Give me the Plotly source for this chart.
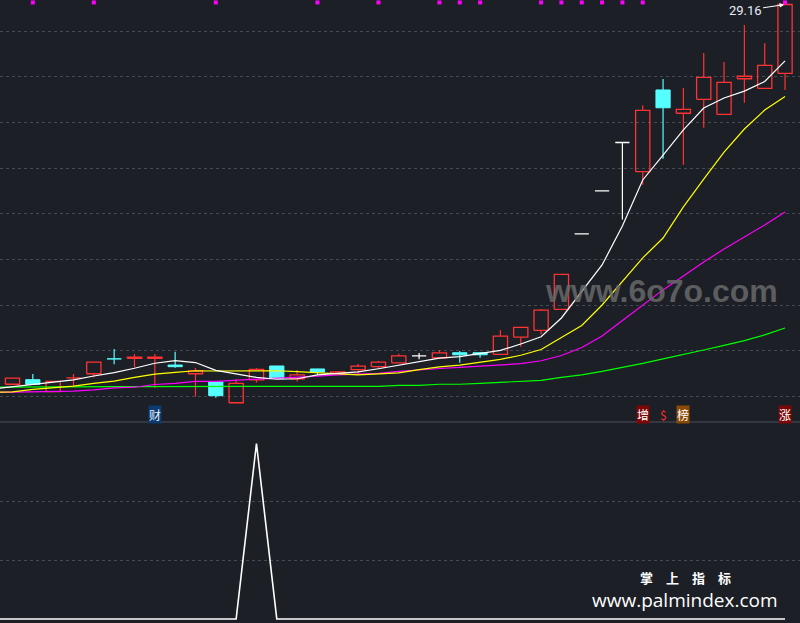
import plotly.graph_objects as go

# ---------------- data ----------------
idx = list(range(39))
opens  = [12.54,12.74,12.22,12.82,13.00,13.67,13.67,13.67,13.38,13.00,12.64,11.73,12.73,13.34,12.78,13.21,13.01,13.18,13.31,13.48,
          13.78,13.70,13.92,13.92,13.85,14.60,14.90,15.82,19.12,21.00,23.12,21.85,25.42,24.40,25.01,24.35,25.91,25.49,26.15]
highs  = [12.81,12.99,12.67,12.99,13.51,14.08,13.86,13.86,13.96,13.25,12.64,12.76,13.25,13.34,13.16,13.21,13.12,13.43,13.56,13.88,
          13.91,14.04,14.00,13.95,14.91,15.03,15.83,17.35,19.12,21.00,23.12,24.75,25.90,25.51,27.04,26.64,28.26,27.46,29.16]
lows   = [12.54,12.54,12.22,12.44,12.84,13.41,13.28,12.38,13.26,12.00,11.95,11.73,12.61,12.80,12.66,12.95,13.00,12.99,13.26,13.48,
          13.63,13.70,13.48,13.70,13.85,14.18,14.73,15.82,19.12,21.00,19.75,21.27,22.41,22.15,23.77,24.35,24.86,25.49,25.42]
closes = [12.81,12.54,12.67,12.84,13.51,13.65,13.73,13.73,13.31,13.12,12.04,12.58,13.19,12.80,12.95,13.08,13.08,13.33,13.51,13.78,
          13.78,13.91,13.83,13.83,14.65,15.03,15.78,17.35,19.12,21.00,23.12,24.53,24.64,24.57,25.97,25.75,26.02,26.50,29.16]

# moving-average lines, index -1 .. 38
ext_idx = list(range(-1, 39))
ma5  = [12.33,12.43,12.51,12.61,12.73,12.90,13.05,13.24,13.46,13.57,13.49,13.15,12.99,12.84,12.76,12.78,12.95,13.02,13.08,13.22,
        13.37,13.50,13.68,13.75,13.88,14.02,14.30,14.62,15.44,16.58,17.76,19.47,21.48,22.57,23.67,24.63,25.07,25.37,25.79,26.69]
ma10 = [12.18,12.21,12.32,12.38,12.46,12.58,12.68,12.84,12.98,13.06,13.13,13.12,13.12,13.14,13.13,13.09,13.05,12.98,12.95,12.99,
        13.04,13.18,13.30,13.38,13.49,13.63,13.81,14.06,14.59,15.11,16.01,17.02,18.07,18.94,20.30,21.52,22.70,23.71,24.54,25.13]
ma20 = [12.18,12.19,12.19,12.23,12.24,12.29,12.38,12.41,12.53,12.58,12.67,12.67,12.71,12.76,12.80,12.83,12.90,12.95,12.99,13.02,
        13.10,13.18,13.23,13.28,13.34,13.38,13.44,13.57,13.80,14.15,14.65,15.33,16.01,16.67,17.28,17.89,18.46,18.98,19.51,20.08]
ma60 = [12.41,12.42,12.42,12.43,12.43,12.44,12.44,12.44,12.44,12.45,12.45,12.45,12.45,12.45,12.45,12.45,12.45,12.45,12.45,12.45,
        12.49,12.49,12.54,12.54,12.58,12.63,12.67,12.71,12.84,12.95,13.10,13.27,13.45,13.65,13.83,14.04,14.24,14.45,14.70,15.00]

# lower indicator panel, index -1 .. 38
signal = [0,0,0,0,0,0,0,0,0,0,0,0,0,3,0,0,0,0,0,0,
          0,0,0,0,0,0,0,0,0,0,0,0,0,0,0,0,0,0,0,0]

# magenta dots along the top
dot_idx = [1,4,10,15,18,21,22,23,26,27,28,29,30,31,38]

# signal labels
label_text = ["财", "增", "$", "榜", "涨"]
label_idx  = [7, 31, 32, 33, 38]
label_bg   = ["#0c3a72", "#7a0808", "rgba(0,0,0,0)", "#8a4a06", "#7a0808"]
label_fg   = ["#e2f0ff", "#ffffff", "#ff2a2a", "#ffffff", "#ffffff"]

last_price_text = "29.16"

# ---------------- styling ----------------
BG = "#1c1f26"
RED = "#ff3333"
CYAN = "#55ffff"
WHITE = "#ffffff"
HALF = 0.35
TOP_DOT_Y = 29.25

fig = go.Figure()

groups = {"red": ([], [], [], []), "cyan": ([], [], [], []), "white": ([], [], [], [])}
for k, o, h, l, c in zip(idx, opens, highs, lows, closes):
    g = "red" if c > o else ("cyan" if c < o else "white")
    bx, by, wx, wy = groups[g]
    top, bot = max(o, c), min(o, c)
    bx += [k - HALF, k + HALF, k + HALF, k - HALF, k - HALF, None]
    by += [bot, bot, top, top, bot, None]
    if h > top:
        wx += [k, k, None]
        wy += [h, top, None]
    if l < bot:
        wx += [k, k, None]
        wy += [bot, l, None]

col = {"red": RED, "cyan": CYAN, "white": WHITE}
for g in ["red", "cyan", "white"]:
    bx, by, wx, wy = groups[g]
    fig.add_trace(go.Scatter(x=wx, y=wy, mode="lines", line=dict(color=col[g], width=1.2),
                             hoverinfo="skip"))
    if g == "cyan":
        fig.add_trace(go.Scatter(x=bx, y=by, mode="lines", fill="toself", fillcolor=CYAN,
                                 line=dict(color=CYAN, width=1), hoverinfo="skip"))
    else:
        fig.add_trace(go.Scatter(x=bx, y=by, mode="lines", line=dict(color=col[g], width=1.3),
                                 hoverinfo="skip"))

for ys, c in [(ma60, "#00ff00"), (ma20, "#ff00ff"), (ma10, "#ffff00"), (ma5, "#ffffff")]:
    fig.add_trace(go.Scatter(x=ext_idx, y=ys, mode="lines", line=dict(color=c, width=1.2),
                             hoverinfo="skip"))

fig.add_trace(go.Scatter(x=dot_idx, y=[TOP_DOT_Y] * len(dot_idx), mode="markers",
                         marker=dict(symbol="square", size=4, color="#ff00ff", line=dict(width=0)),
                         hoverinfo="skip"))

fig.add_trace(go.Scatter(x=ext_idx, y=signal, mode="lines", xaxis="x2", yaxis="y2",
                         line=dict(color="#ffffff", width=1.6), hoverinfo="skip"))

H = 623.0
main_bottom = 1 - 422 / H
low_top = 1 - 423 / H

axis_common = dict(showticklabels=False, zeroline=False, ticks="", showline=False)
fig.update_layout(
    width=800, height=623, margin=dict(l=0, r=0, t=0, b=0),
    paper_bgcolor=BG, plot_bgcolor=BG, showlegend=False, hovermode=False,
    xaxis=dict(domain=[0, 1], range=[-0.615, 38.736], showgrid=False, anchor="y", **axis_common),
    yaxis=dict(domain=[main_bottom, 1], range=[10.888, 29.357], tickvals=list(range(12, 30, 2)),
               showgrid=True, gridcolor="#454a55", griddash="dot", gridwidth=1, **axis_common),
    xaxis2=dict(domain=[0, 1], range=[-0.615, 38.736], matches="x", showgrid=False, anchor="y2", **axis_common),
    yaxis2=dict(domain=[0, low_top], range=[-0.0684, 3.35], tickvals=[1, 2],
                showgrid=True, gridcolor="#454a55", griddash="dot", gridwidth=1, **axis_common),
)

fig.add_shape(type="line", xref="paper", yref="paper", x0=0, x1=1, y0=main_bottom, y1=main_bottom,
              line=dict(color="#3a404b", width=1.5))

anns = []
for t, k, bg, fg in zip(label_text, label_idx, label_bg, label_fg):
    anns.append(dict(text=t, x=k, xref="x", y=1 - 414.5 / H, yref="paper", showarrow=False,
                     xanchor="center", yanchor="middle",
                     font=dict(family="Noto Sans CJK SC", size=12, color=fg),
                     bgcolor=bg, borderpad=0))

anns.append(dict(text=last_price_text, x=idx[-1], y=highs[-1], xref="x", yref="y",
                 ax=-40, ay=6, axref="pixel", ayref="pixel", showarrow=True,
                 arrowhead=2, arrowsize=0.9, arrowwidth=1, arrowcolor="#ffffff", standoff=1,
                 font=dict(family="Roboto", size=13, color="#e4edf5")))

anns.append(dict(text="<b>www.6o7o.com</b>", x=661.5 / 800, y=1 - 291 / H, xref="paper", yref="paper",
                 xanchor="center", yanchor="middle", showarrow=False,
                 font=dict(family="Liberation Sans", size=32, color="rgba(105,105,105,0.85)")))

anns.append(dict(text="<b>掌\u2003上\u2003指\u2003标</b>", x=685 / 800, y=1 - 577 / H, xref="paper", yref="paper",
                 xanchor="center", yanchor="middle", showarrow=False,
                 font=dict(family="Noto Sans CJK SC", size=13, color="#ffffff")))
anns.append(dict(text="www.palmindex.com", x=685 / 800, y=1 - 600 / H, xref="paper", yref="paper",
                 xanchor="center", yanchor="middle", showarrow=False,
                 font=dict(family="Open Sans", size=19, color="#ffffff")))

fig.update_layout(annotations=anns)

fig.write_html("out.html", config={"displayModeBar": False},
               post_script="document.body.style.margin='0';document.body.style.padding='0';document.body.style.background='%s';" % BG)
